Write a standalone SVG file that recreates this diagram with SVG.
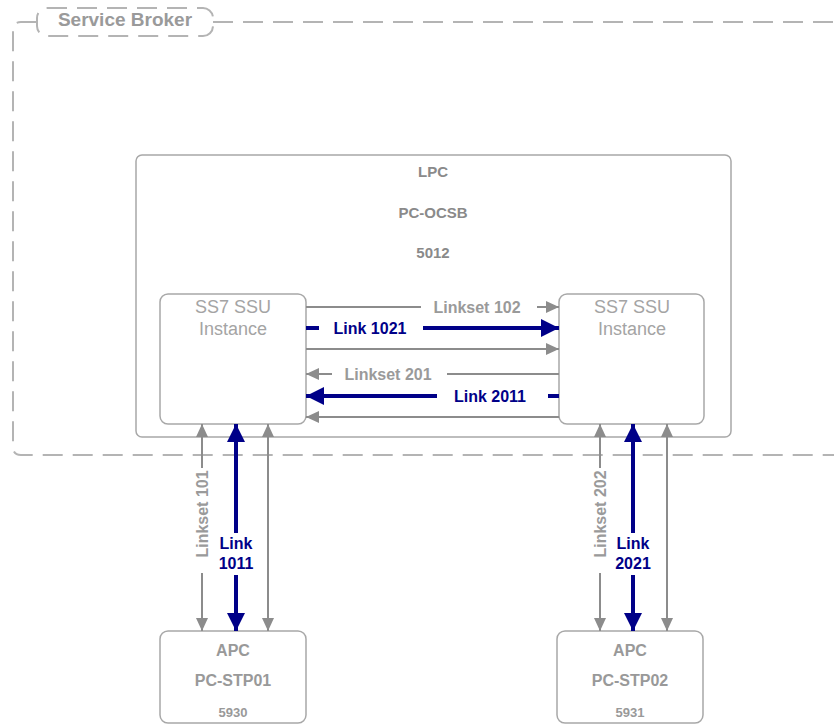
<svg xmlns="http://www.w3.org/2000/svg" width="834" height="725" viewBox="0 0 834 725">
<style>
.box{fill:#fff;stroke:#a8a8a8;stroke-width:1.5}
.dash{fill:none;stroke:#b4b4b4;stroke-width:2;stroke-dasharray:20 10}
.g{stroke:#8c8c8c;stroke-width:2;fill:none}
.n{stroke:#000088;stroke-width:4;fill:none}
.ga{marker-end:url(#ag)}
.gb{marker-start:url(#ag);marker-end:url(#ag)}
.na{marker-end:url(#an)}
.nb{marker-start:url(#an);marker-end:url(#an)}
text{font-family:"Liberation Sans",Arial,sans-serif}
.lbl{font-weight:bold;font-size:16px;fill:#9a9a9a;text-anchor:middle}
.nl{font-weight:bold;font-size:16px;fill:#000088;text-anchor:middle}
.hd{font-weight:bold;font-size:15px;fill:#8a8a8a;text-anchor:middle}
.ssu{font-size:18px;fill:#a4a4a4;text-anchor:middle}
.apc{font-weight:bold;font-size:16px;fill:#999;text-anchor:middle}
.num{font-weight:bold;font-size:13px;fill:#999;text-anchor:middle}
.sb{font-weight:bold;font-size:19px;fill:#9a9a9a;text-anchor:middle}
</style>
<defs>
<marker id="ag" markerUnits="userSpaceOnUse" markerWidth="13" markerHeight="12" refX="13" refY="6" orient="auto-start-reverse"><path d="M0,0 L13,6 L0,12 z" fill="#8c8c8c"/></marker>
<marker id="an" markerUnits="userSpaceOnUse" markerWidth="18" markerHeight="18" refX="18" refY="9" orient="auto-start-reverse"><path d="M0,0 L18,9 L0,18 z" fill="#000088"/></marker>
</defs>
<g id="service-broker">
<path class="dash" d="M37,22 H21 Q13,22 13,30 V447 Q13,455 21,455 H850 M213,22 H850"/>
<rect class="dash" x="37" y="8" width="176" height="28" rx="10"/>
<text class="sb" x="125" y="26">Service Broker</text>
</g>
<g id="lpc">
<rect class="box" x="136" y="155" width="595" height="282" rx="6"/>
<text class="hd" x="433" y="177">LPC</text>
<text class="hd" x="433" y="218">PC-OCSB</text>
<text class="hd" x="433" y="258">5012</text>
</g>
<g id="ssu-left">
<rect class="box" x="160" y="294" width="146" height="130" rx="8"/>
<text class="ssu" x="233" y="313">SS7 SSU</text>
<text class="ssu" x="233" y="335">Instance</text>
</g>
<g id="ssu-right">
<rect class="box" x="559" y="294" width="145" height="130" rx="8"/>
<text class="ssu" x="632" y="313">SS7 SSU</text>
<text class="ssu" x="632" y="335">Instance</text>
</g>
<g id="apc-left">
<rect class="box" x="160" y="631" width="146" height="92" rx="8"/>
<text class="apc" x="233" y="656">APC</text>
<text class="apc" x="233" y="686">PC-STP01</text>
<text class="num" x="233" y="717">5930</text>
</g>
<g id="apc-right">
<rect class="box" x="557" y="631" width="146" height="92" rx="8"/>
<text class="apc" x="630" y="656">APC</text>
<text class="apc" x="630" y="686">PC-STP02</text>
<text class="num" x="630" y="717">5931</text>
</g>
<g id="connectors">
<line class="g" x1="306" y1="307" x2="421" y2="307"/>
<line class="g ga" x1="537" y1="307" x2="559" y2="307"/>
<text class="lbl" x="477" y="312.5">Linkset 102</text>
<line class="n" x1="306" y1="328" x2="319" y2="328"/>
<line class="n na" x1="423" y1="328" x2="559" y2="328"/>
<text class="nl" x="370" y="333.5">Link 1021</text>
<line class="g ga" x1="306" y1="349" x2="559" y2="349"/>
<line class="g" x1="559" y1="374" x2="447" y2="374"/>
<line class="g ga" x1="332" y1="374" x2="306" y2="374"/>
<text class="lbl" x="388" y="379.5">Linkset 201</text>
<line class="n" x1="559" y1="396" x2="548" y2="396"/>
<line class="n na" x1="437" y1="396" x2="306" y2="396"/>
<text class="nl" x="490" y="401.5">Link 2011</text>
<line class="g ga" x1="559" y1="417" x2="306" y2="417"/>

<line class="g ga" x1="202" y1="468" x2="202" y2="424"/>
<line class="g ga" x1="202" y1="573" x2="202" y2="631"/>
<text class="lbl" transform="rotate(-90 202 514)" x="202" y="519.5">Linkset 101</text>
<line class="n na" x1="236" y1="533" x2="236" y2="424"/>
<line class="n na" x1="236" y1="575" x2="236" y2="631"/>
<text class="nl" x="236" y="549">Link</text>
<text class="nl" x="236" y="569">1011</text>
<line class="g gb" x1="268" y1="424" x2="268" y2="631"/>

<line class="g ga" x1="600" y1="468" x2="600" y2="424"/>
<line class="g ga" x1="600" y1="573" x2="600" y2="631"/>
<text class="lbl" transform="rotate(-90 600 514)" x="600" y="519.5">Linkset 202</text>
<line class="n na" x1="633" y1="533" x2="633" y2="424"/>
<line class="n na" x1="633" y1="575" x2="633" y2="631"/>
<text class="nl" x="633" y="549">Link</text>
<text class="nl" x="633" y="569">2021</text>
<line class="g gb" x1="667" y1="424" x2="667" y2="631"/>
</g>
</svg>
